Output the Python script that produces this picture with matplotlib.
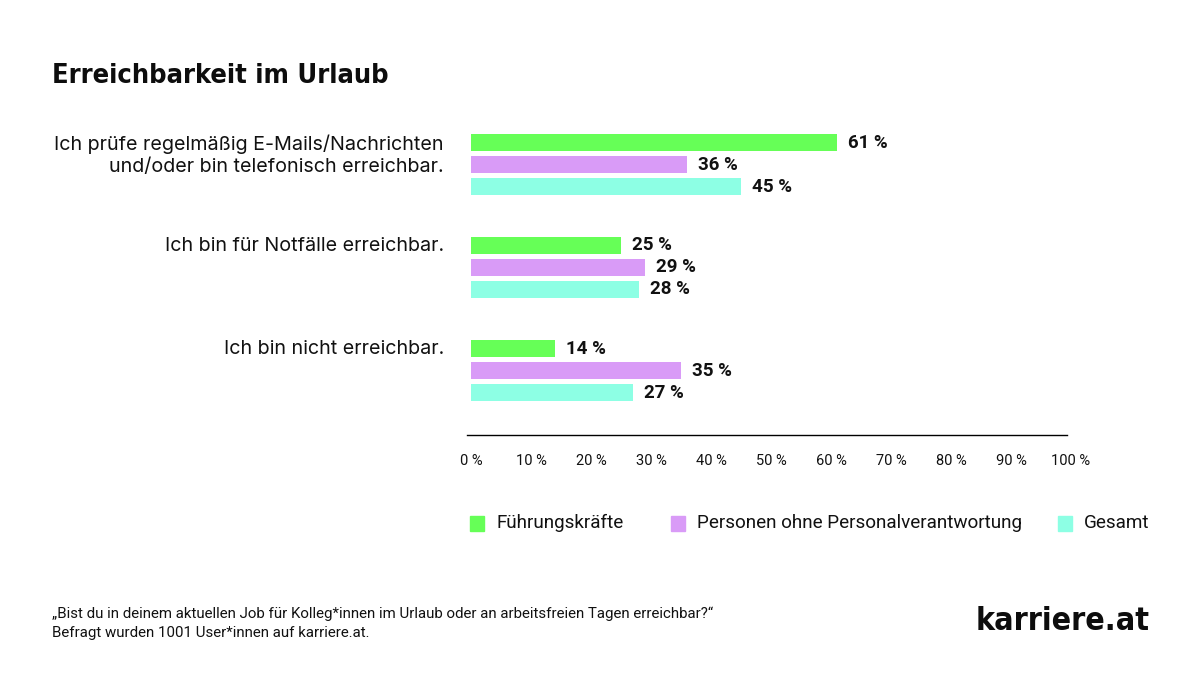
import matplotlib
matplotlib.use("Agg")
import matplotlib.pyplot as plt
import numpy as np

# data
categories = ["Ich prüfe regelmäßig E-Mails/Nachrichten\nund/oder bin telefonisch erreichbar.",
              "Ich bin für Notfälle erreichbar.",
              "Ich bin nicht erreichbar."]
series_names = ["Führungskräfte", "Personen ohne Personalverantwortung", "Gesamt"]
fuehrung = [61, 25, 14]
ohne_pv = [36, 29, 35]
gesamt = [45, 28, 27]
colors = ["#66ff57", "#d99bf7", "#8dffe4"]
ticks = list(range(0, 101, 10))

plt.rcParams['font.family'] = ['Roboto', 'DejaVu Sans']
cond = dict(family=["DejaVu Sans"], fontstretch="condensed", fontweight="bold")

W, H = 1200, 681
fig = plt.figure(figsize=(12, 6.81), dpi=100)

# axes placed in pixel terms: x 471..1071, y 120..435
ax_top, ax_bot = 120, 435
ax = fig.add_axes([471 / W, 1 - ax_bot / H, 600 / W, (ax_bot - ax_top) / H])
unit = 103.0
ax.set_xlim(0, 100)
ax.set_ylim((ax_bot - 164.5) / unit, -(164.5 - ax_top) / unit)

off = 22 / unit
bh = 17 / unit
y = np.arange(len(categories))
for vals, dy, c in zip([fuehrung, ohne_pv, gesamt], [-off, 0, off], colors):
    ax.barh(y + dy, vals, height=bh, color=c)
    for yi, v in zip(y + dy, vals):
        ax.text(v + 1.8, yi, f"{v} %", va="center", ha="left",
                fontsize=13.5, fontweight="bold", color="#111111")

for yi, cat in zip(y, categories):
    ax.text(-4.5, yi - off - 0.08, cat, ha="right", va="top", fontsize=14.2,
            family=["Inter", "DejaVu Sans"], color="#111111", linespacing=1.32)

for s in ["top", "right", "left"]:
    ax.spines[s].set_visible(False)
ax.spines["bottom"].set_linewidth(1)
ax.spines["bottom"].set_bounds(-0.7, 99.4)
ax.set_yticks([])
ax.set_xticks(ticks)
ax.set_xticklabels([f"{t} %" for t in ticks], fontsize=10.5, color="#111111")
ax.tick_params(axis="x", length=0, pad=14)

# title
fig.text(52 / W, 1 - 76 / H, "Erreichbarkeit im Urlaub", fontsize=19.5,
         va="center", ha="left", color="#0d0d0d", **cond)

# legend
leg_x = [470, 671, 1058]
for lx, name, c in zip(leg_x, series_names, colors):
    fig.patches.append(plt.Rectangle((lx / W, 1 - 531 / H), 14 / W, 15 / H,
                                     transform=fig.transFigure, color=c))
    fig.text((lx + 26) / W, 1 - 523 / H, name, fontsize=13.6, va="center",
             ha="left", color="#111111")

# footnote
fig.text(52 / W, 1 - 614 / H,
         "„Bist du in deinem aktuellen Job für Kolleg*innen im Urlaub oder an arbeitsfreien Tagen erreichbar?“",
         fontsize=10.85, va="center", ha="left", color="#111111")
fig.text(52 / W, 1 - 633 / H, "Befragt wurden 1001 User*innen auf karriere.at.",
         fontsize=10.85, va="center", ha="left", color="#111111")

# logo
fig.text(1150 / W, 1 - 622 / H, "karriere.at", fontsize=23,
         va="center", ha="right", color="#0d0d0d", **cond)

fig.savefig("out.png", dpi=100, facecolor="white")
